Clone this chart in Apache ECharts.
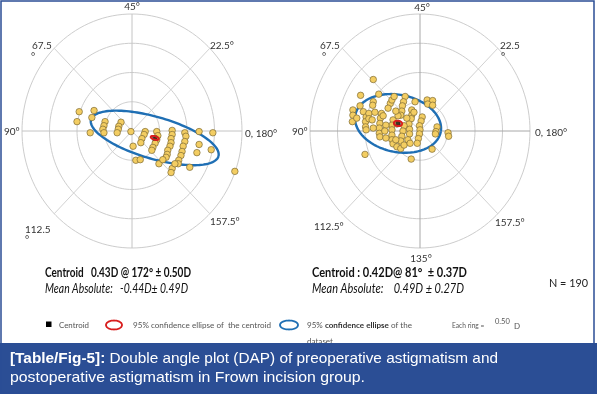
<!DOCTYPE html>
<html><head><meta charset="utf-8">
<script src="https://cdn.jsdelivr.net/npm/echarts@6/dist/echarts.min.js"></script>
<style>html,body{margin:0;padding:0;background:#fff}#c{width:597px;height:394px}</style>
</head><body><div id="c"></div>
<script>
// ================= DATA =================
const ringRadii = [0.5, 1.0, 1.5, 2.0];      // dioptres, each ring = 0.50 D
const spokeAngles = [0, 45, 90, 135];        // double-angle directions (deg)
const preTickLabels  = ['45°', '67.5', '°', '22.5°', '90°', '0, 180°', '112.5', '°', '157.5°'];
const postTickLabels = ['45°', '67.5', '°', '22.5', '°', '90°', '0, 180°', '112.5°', '157.5°', '135°'];

// double-angle plot points [x, y] in dioptres (preoperative)
const prePoints = [
  [-0.96,0.33],[-1.00,0.16],[-0.69,0.35],[-0.73,0.23],[-0.76,-0.03],
  [-0.49,0.16],[-0.51,0.09],[-0.53,0.03],[-0.51,-0.03],
  [-0.20,0.15],[-0.24,0.08],[-0.25,0.03],[-0.27,-0.03],
  [-0.02,-0.01],[0.24,-0.01],[0.22,-0.06],[0.18,-0.13],[0.16,-0.20],[0.02,-0.26],
  [0.45,-0.01],[0.47,-0.08],[0.45,-0.15],[0.42,-0.21],[0.38,-0.28],[0.36,-0.33],
  [0.73,0.01],[0.73,-0.06],[0.71,-0.13],[0.71,-0.20],[0.69,-0.26],[0.65,-0.33],[0.64,-0.40],[0.62,-0.45],
  [0.96,-0.03],[0.98,-0.09],[0.96,-0.18],[0.93,-0.26],[0.91,-0.35],[0.89,-0.42],[0.85,-0.50],[0.84,-0.56],
  [1.22,-0.01],[1.22,-0.23],[1.18,-0.37],[1.47,-0.03],[1.44,-0.32],
  [0.07,-0.50],[0.15,-0.49],[0.49,-0.56],[0.56,-0.49],[0.73,-0.64],[0.71,-0.71],
  [1.05,-0.62],[1.87,-0.69],[0.78,-0.56]
];
// postoperative
const postPoints = [
  [-0.85,0.88],[-1.08,0.61],[-0.75,0.63],[-0.85,0.50],[-0.86,0.44],
  [-1.22,0.36],[-1.22,0.27],[-1.23,0.16],[-1.03,0.33],[-0.98,0.24],
  [-0.99,0.16],[-0.99,0.07],[-0.98,0.02],[-0.93,0.30],[-0.93,0.21],
  [-0.70,0.30],[-0.72,0.22],[-0.73,0.13],[-0.74,0.05],[-0.74,-0.04],
  [-0.73,-0.10],[-0.67,0.26],[-0.54,0.47],[-0.51,0.53],[-0.47,0.59],
  [-0.27,0.59],[-0.30,0.50],[-0.32,0.43],[-0.33,0.34],[-0.35,0.27],
  [-0.49,0.19],[-0.51,0.10],[-0.51,0.02],[-0.51,-0.07],[-0.51,-0.15],
  [-0.49,-0.22],[-0.15,0.36],[-0.15,0.27],[-0.16,0.21],[-0.20,0.12],
  [-0.19,0.03],[-0.19,-0.05],[-0.09,0.50],[0.04,0.24],[0.02,0.17],
  [-0.01,0.09],[0.00,0.02],[-0.01,-0.05],[-0.03,-0.13],[-0.05,-0.21],
  [0.13,0.53],[0.23,0.52],[0.14,0.46],[0.23,0.44],[0.31,0.07],
  [0.29,-0.01],[0.28,-0.05],[0.51,-0.03],[0.52,-0.09],[0.22,-0.31],
  [-0.16,-0.48],[-1.00,-0.40],[-0.42,-0.27],[-0.35,-0.30],[-0.29,0.09],
  [-0.31,0.00],[-0.33,-0.09],[-0.35,-0.17],[-0.29,-0.24],[-0.22,-0.15],
  [-0.18,-0.21],[-0.44,-0.15],[-0.42,0.12],[-0.40,0.26],[-0.44,0.34],
  [-0.62,0.10],[-0.64,0.00],[-0.62,-0.12],[-0.87,0.19],[-0.85,0.05],
  [-1.15,0.22],[-1.09,0.43],[-0.58,0.39],[-0.24,0.22],[-0.11,0.32],[-0.82,0.32]
];

const preCentroid  = {mag: 0.43, axis: 172, sd: 0.50};
const postCentroid = {mag: 0.42, axis: 81,  sd: 0.37};
const preMeanAbs  = {mean: -0.44, sd: 0.49};
const postMeanAbs = {mean: 0.49,  sd: 0.27};
const sampleSize = 190;
const ringStep = 0.50;
// 95% ellipses (semi-axes in D, rotation in deg), centred on the centroid
const preDataEllipse  = {a: 1.20, b: 0.36, rot: -15};
const postDataEllipse = {a: 0.79, b: 0.49, rot: -10};
const preCentroidEllipse  = {a: 0.075, b: 0.030, rot: -15};
const postCentroidEllipse = {a: 0.075, b: 0.045, rot: -8};

// ================= HELPERS =================
function dap(c) { // double angle conversion
  const t = 2 * c.axis * Math.PI / 180;
  return [c.mag * Math.cos(t), c.mag * Math.sin(t)];
}
function ellipsePts(cx, cy, a, b, rotDeg, n) {
  const r = rotDeg * Math.PI / 180, pts = [];
  for (let i = 0; i <= n; i++) {
    const t = 2 * Math.PI * i / n, x = a * Math.cos(t), y = b * Math.sin(t);
    pts.push([cx + x * Math.cos(r) - y * Math.sin(r), cy + x * Math.sin(r) + y * Math.cos(r)]);
  }
  return pts;
}
function ellipseSeries(idx, rows, stroke, lw, z) {
  return {
    type: 'custom', xAxisIndex: idx, yAxisIndex: idx, z: z, silent: true, clip: false,
    data: rows,
    renderItem: function (params, api) {
      const pts = ellipsePts(api.value(0), api.value(1), api.value(2), api.value(3), api.value(4), 140)
        .map(p => api.coord(p));
      return {type: 'polyline', shape: {points: pts}, style: {fill: null, stroke: stroke, lineWidth: lw}};
    }
  };
}
function spokeSeries(idx, axisColor, diagColor) {
  const R = ringRadii[ringRadii.length - 1];
  return {
    type: 'custom', xAxisIndex: idx, yAxisIndex: idx, z: 1, silent: true, clip: false,
    data: spokeAngles.map(a => [a, R]),
    renderItem: function (params, api) {
      const a = api.value(0) * Math.PI / 180, r = api.value(1);
      const p1 = api.coord([-r * Math.cos(a), -r * Math.sin(a)]);
      const p2 = api.coord([r * Math.cos(a), r * Math.sin(a)]);
      const isAxis = api.value(0) % 90 === 0;
      return {type: 'line', shape: {x1: p1[0], y1: p1[1], x2: p2[0], y2: p2[1]},
        style: {stroke: isAxis ? axisColor : diagColor, lineWidth: 1}};
    }
  };
}
function plotSeries(idx, points, centroid, dataE, ciE, axisColor) {
  const c = dap(centroid);
  return [
    ellipseSeries(idx, ringRadii.map(r => [0, 0, r, r, 0]), '#cdcdcd', 1, 1),
    spokeSeries(idx, axisColor, '#d2d2d2'),
    ellipseSeries(idx, [[c[0], c[1], dataE.a, dataE.b, dataE.rot]], '#1f6fb4', 2.4, 2),
    {type: 'scatter', xAxisIndex: idx, yAxisIndex: idx, z: 3, silent: true,
      data: points, symbolSize: 6.5,
      itemStyle: {color: '#f3cd62', borderColor: '#7d6a35', borderWidth: 0.7, opacity: 1}},
    ellipseSeries(idx, [[c[0], c[1], ciE.a, ciE.b, ciE.rot]], '#d81e1e', 2, 5),
    {type: 'scatter', xAxisIndex: idx, yAxisIndex: idx, z: 4, silent: true,
      data: [c], symbol: 'rect', symbolSize: 5, itemStyle: {color: '#111'}}
  ];
}

// ================= TEXT LAYOUT =================
const mctx = document.createElement('canvas').getContext('2d');
function textW(parts) { // parts: [[text, font], ...]
  return parts.reduce((s, p) => { mctx.font = p[1]; return s + mctx.measureText(p[0]).width; }, 0);
}
const tickFont = "10px Lato, 'DejaVu Sans', sans-serif";
const preTickPos  = [[132,7,'center'],[32,46,'left'],[31,57,'left'],[210,46,'left'],[4,132,'left'],[245,134,'left'],[25,230,'left'],[25,240,'left'],[210,222,'left']];
const postTickPos = [[422,8,'center'],[320,46,'left'],[322,57,'left'],[500,46,'left'],[501,57,'left'],[292,132,'left'],[535,133,'left'],[314,227,'left'],[495,223,'left'],[421,259,'center']];
function txt(s, x, y, font, fill, align, extra) {
  return Object.assign({type: 'text', x: x, y: y, z: 10, silent: true,
    style: {text: s, font: font, fill: fill || '#333', textAlign: align || 'left', textVerticalAlign: 'middle'}}, extra || {});
}
function fitTxt(s, x, y, font, width, fill, extra) {
  return txt(s, x, y, font, fill, 'left', Object.assign({scaleX: width / textW([[s, font]])}, extra || {}));
}
const graphics = [];
preTickLabels.forEach((s, i) => graphics.push(txt(s, preTickPos[i][0], preTickPos[i][1], tickFont, '#333', preTickPos[i][2])));
postTickLabels.forEach((s, i) => graphics.push(txt(s, postTickPos[i][0], postTickPos[i][1], tickFont, '#333', postTickPos[i][2])));

const statBold = "bold 12.5px Lato, sans-serif";
const statItal = "italic 12.5px Lato, sans-serif";
graphics.push(fitTxt(`Centroid   ${preCentroid.mag.toFixed(2)}D @ ${preCentroid.axis}° ± ${preCentroid.sd.toFixed(2)}D`, 45, 273, statBold, 146, '#111'));
graphics.push(fitTxt(`Mean Absolute:   ${preMeanAbs.mean.toFixed(2)}D± ${preMeanAbs.sd.toFixed(2)}D`, 45, 289, statItal, 143, '#111'));
graphics.push(fitTxt(`Centroid : ${postCentroid.mag.toFixed(2)}D@ ${postCentroid.axis}°  ± ${postCentroid.sd.toFixed(2)}D`, 312, 273, statBold, 155, '#111'));
graphics.push(fitTxt(`Mean Absolute:    ${postMeanAbs.mean.toFixed(2)}D ± ${postMeanAbs.sd.toFixed(2)}D`, 312, 289, statItal, 152, '#111'));
graphics.push(fitTxt(`N = ${sampleSize}`, 549, 283, "11.5px Lato, sans-serif", 39, '#222'));

// legend
const legY = 325;
const legFont = "8px Lato, sans-serif";
const legBold = "bold 8px Lato, sans-serif";
graphics.push({type: 'rect', z: 10, silent: true, shape: {x: 46, y: legY - 3.5, width: 5.5, height: 5.5}, style: {fill: '#000'}});
graphics.push(fitTxt('Centroid', 59, legY, legFont, 30, '#555'));
graphics.push({type: 'polyline', z: 10, silent: true, shape: {points: ellipsePts(114, legY, 8, 4.5, 0, 60)}, style: {fill: null, stroke: '#d81e1e', lineWidth: 1.8}});
graphics.push(fitTxt('95% confidence ellipse of  the centroid', 133, legY, legFont, 138, '#555'));
graphics.push({type: 'polyline', z: 10, silent: true, shape: {points: ellipsePts(289, legY, 9, 4.5, 0, 60)}, style: {fill: null, stroke: '#1f6fb4', lineWidth: 1.8}});
(function () {
  const w = textW([['95% ', legFont], ['confidence ellipse', legBold], [' of the', legFont]]);
  graphics.push({type: 'text', x: 307, y: legY, z: 10, silent: true, scaleX: 105 / w,
    style: {text: '95% {b|confidence ellipse} of the', font: legFont, fill: '#555', textVerticalAlign: 'middle',
      rich: {b: {font: legBold, fill: '#333'}}}});
})();
graphics.push(fitTxt('dataset', 307, legY + 16, legFont, 26, '#555'));
graphics.push(fitTxt('Each ring = ', 452, legY, legFont, 34, '#555'));
graphics.push(txt(ringStep.toFixed(2), 495, legY - 3, "7.5px Lato, sans-serif", '#555'));
graphics.push(txt('D', 514, legY + 1, legFont, '#555'));

// caption band
const bandTop = 343;
graphics.push({type: 'rect', z: 20, silent: true, shape: {x: 0, y: bandTop, width: 597, height: 394 - bandTop}, style: {fill: '#2b4e95'}});
const capFont = "15px 'Liberation Sans', Arial, sans-serif";
const capBold = "bold 15px 'Liberation Sans', Arial, sans-serif";
(function () {
  const w1 = textW([['[Table/Fig-5]:', capBold], [' Double angle plot (DAP) of preoperative astigmatism and', capFont]]);
  graphics.push({type: 'text', x: 10, y: 359, z: 21, silent: true, scaleX: 488 / w1,
    style: {text: '{b|[Table/Fig-5]:} Double angle plot (DAP) of preoperative astigmatism and', font: capFont, fill: '#fff', textVerticalAlign: 'middle',
      rich: {b: {font: capBold, fill: '#fff'}}}});
})();
graphics.push(fitTxt('postoperative astigmatism in Frown incision group.', 10, 378, capFont, 355, '#fff', {z: 21}));
// frame
graphics.push({type: 'rect', z: 22, silent: true, shape: {x: 1, y: 1, width: 593, height: 392}, style: {fill: null, stroke: '#2b4e95', lineWidth: 1.5}});

// ================= CHART =================
const axisCommon = {type: 'value', min: -2, max: 2, show: false, splitLine: {show: false}};
const chart = echarts.init(document.getElementById('c'), null, {renderer: 'canvas'});
chart.setOption({
  animation: false,
  backgroundColor: '#fff',
  grid: [
    {left: 22, top: 14, width: 220, height: 234},
    {left: 310, top: 14, width: 220, height: 234}
  ],
  xAxis: [Object.assign({gridIndex: 0}, axisCommon), Object.assign({gridIndex: 1}, axisCommon)],
  yAxis: [Object.assign({gridIndex: 0}, axisCommon), Object.assign({gridIndex: 1}, axisCommon)],
  series: [].concat(
    plotSeries(0, prePoints, preCentroid, preDataEllipse, preCentroidEllipse, '#c4c4c4'),
    plotSeries(1, postPoints, postCentroid, postDataEllipse, postCentroidEllipse, '#a8a8a8')
  ),
  graphic: graphics
});
</script>
</body></html>
